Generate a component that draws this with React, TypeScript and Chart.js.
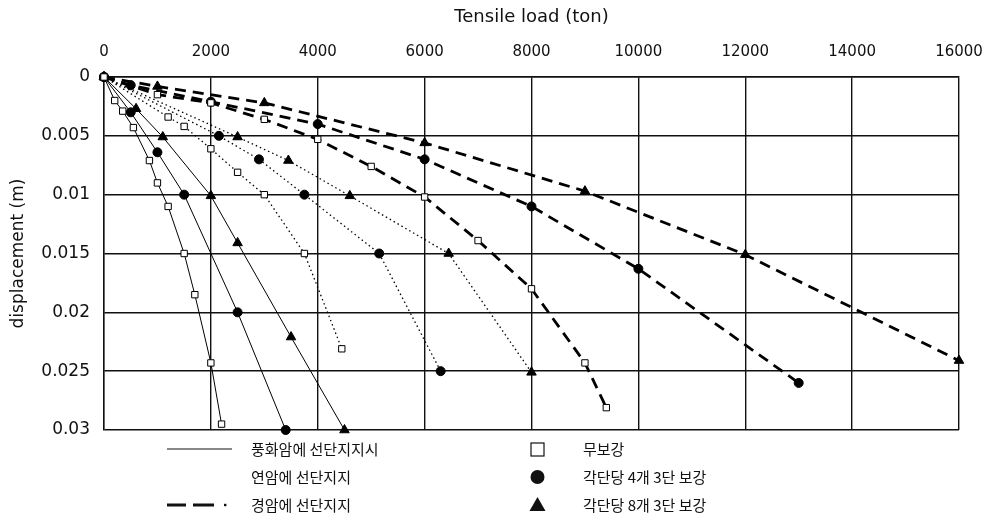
import React, { useEffect, useRef } from "react";
import { Chart, registerables } from "chart.js";

Chart.register(...registerables);

// X axis ticks (ton) and Y ticks (m)
const xTickValues = [0, 2000, 4000, 6000, 8000, 10000, 12000, 14000, 16000];
const yTickValues = [0, 0.005, 0.01, 0.015, 0.02, 0.025, 0.03];
const yTickLabels = ["0", "0.005", "0.01", "0.015", "0.02", "0.025", "0.03"];

// 풍화암 (solid)
const weatheredNoneLoad = [0, 200, 350, 550, 850, 1000, 1200, 1500, 1700, 2000, 2200];
const weatheredNoneDisp = [0, 0.002, 0.0029, 0.0043, 0.0071, 0.009, 0.011, 0.015, 0.0185, 0.0243, 0.0295];
const weatheredFourLoad = [0, 500, 1000, 1500, 2500, 3400];
const weatheredFourDisp = [0, 0.003, 0.0064, 0.01, 0.02, 0.03];
const weatheredEightLoad = [0, 600, 1100, 2000, 2500, 3500, 4500];
const weatheredEightDisp = [0, 0.0027, 0.0051, 0.0101, 0.0141, 0.0221, 0.03];

// 연암 (dotted)
const softNoneLoad = [0, 1200, 1500, 2000, 2500, 3000, 3750, 4450];
const softNoneDisp = [0, 0.0034, 0.0042, 0.0061, 0.0081, 0.01, 0.015, 0.0231];
const softFourLoad = [0, 2150, 2900, 3750, 5150, 6300];
const softFourDisp = [0, 0.005, 0.007, 0.01, 0.015, 0.025];
const softEightLoad = [0, 2500, 3450, 4600, 6450, 8000];
const softEightDisp = [0, 0.0051, 0.0071, 0.0101, 0.015, 0.0251];

// 경암 (dashed)
const hardNoneLoad = [0, 1000, 2000, 3000, 4000, 5000, 6000, 7000, 8000, 9000, 9400];
const hardNoneDisp = [0, 0.0015, 0.0022, 0.0036, 0.0053, 0.0076, 0.0102, 0.0139, 0.018, 0.0243, 0.0281];
const hardFourLoad = [0, 500, 2000, 4000, 6000, 8000, 10000, 13000];
const hardFourDisp = [0, 0.0007, 0.0021, 0.004, 0.007, 0.011, 0.0163, 0.026];
const hardEightLoad = [0, 1000, 3000, 6000, 9000, 12000, 16000];
const hardEightDisp = [0, 0.0008, 0.0022, 0.0056, 0.0097, 0.0151, 0.0241];

const lineLegendLabels = ["풍화암에 선단지지시", "연암에 선단지지", "경암에 선단지지"];
const markerLegendLabels = ["무보강", "각단당 4개 3단 보강", "각단당 8개 3단 보강"];

const FONT = "'DejaVu Sans', 'Liberation Sans', sans-serif";
const KFONT = "'Noto Sans CJK KR', sans-serif";

const toPts = (xs: number[], ys: number[]) => xs.map((x, i) => ({ x, y: ys[i] }));

type Style = "solid" | "dotted" | "dashed";
type Marker = "rect" | "circle" | "triangle";

const lineStyle = (s: Style) => {
  if (s === "solid") return { borderWidth: 1, borderDash: [] as number[] };
  if (s === "dotted") return { borderWidth: 1.3, borderDash: [1.5, 3] };
  return { borderWidth: 2.8, borderDash: [11, 7] };
};

const markerStyle = (m: Marker) => {
  if (m === "rect")
    return { pointStyle: "rect", pointRadius: 4.5, pointBackgroundColor: "#fff", pointBorderColor: "#000", pointBorderWidth: 1 };
  if (m === "circle")
    return { pointStyle: "circle", pointRadius: 4.5, pointBackgroundColor: "#000", pointBorderColor: "#000", pointBorderWidth: 1 };
  return { pointStyle: "triangle", pointRadius: 5.5, pointBackgroundColor: "#000", pointBorderColor: "#000", pointBorderWidth: 1 };
};

const makeSet = (label: string, xs: number[], ys: number[], s: Style, m: Marker) => ({
  label,
  data: toPts(xs, ys),
  showLine: true,
  borderColor: "#000",
  backgroundColor: "#000",
  tension: 0,
  clip: false as any,
  ...lineStyle(s),
  ...markerStyle(m),
});

const legendPlugin = {
  id: "customLegend",
  afterDraw(chart: any) {
    const ctx = chart.ctx as CanvasRenderingContext2D;
    const rows = [449, 477, 505];
    ctx.save();
    ctx.fillStyle = "#111";
    ctx.strokeStyle = "#111";
    ctx.font = `15px ${KFONT}`;
    ctx.textBaseline = "middle";
    ctx.textAlign = "left";
    // line samples
    ctx.lineWidth = 1;
    ctx.beginPath();
    ctx.moveTo(167, rows[0]);
    ctx.lineTo(232, rows[0]);
    ctx.stroke();
    ctx.lineWidth = 2.8;
    ctx.beginPath();
    ctx.moveTo(167, rows[2]);
    ctx.lineTo(186, rows[2]);
    ctx.moveTo(193, rows[2]);
    ctx.lineTo(214, rows[2]);
    ctx.stroke();
    ctx.fillRect(224, rows[2] - 1.2, 2.4, 2.4);
    lineLegendLabels.forEach((t, i) => ctx.fillText(t, 251, rows[i]));
    // markers
    ctx.lineWidth = 1.2;
    ctx.strokeRect(531, rows[0] - 6, 13, 13);
    ctx.beginPath();
    ctx.arc(537.5, rows[1], 7, 0, Math.PI * 2);
    ctx.fill();
    ctx.beginPath();
    ctx.moveTo(537.5, rows[2] - 8);
    ctx.lineTo(545.5, rows[2] + 6);
    ctx.lineTo(529.5, rows[2] + 6);
    ctx.closePath();
    ctx.fill();
    markerLegendLabels.forEach((t, i) => ctx.fillText(t, 583, rows[i]));
    ctx.restore();
  },
};

export default function App() {
  const ref = useRef<HTMLCanvasElement | null>(null);
  useEffect(() => {
    document.body.style.margin = "0";
    const canvas = ref.current!;
    const chart = new Chart(canvas, {
      type: "scatter",
      data: {
        datasets: [
          makeSet("풍화암 무보강", weatheredNoneLoad, weatheredNoneDisp, "solid", "rect"),
          makeSet("풍화암 4개", weatheredFourLoad, weatheredFourDisp, "solid", "circle"),
          makeSet("풍화암 8개", weatheredEightLoad, weatheredEightDisp, "solid", "triangle"),
          makeSet("연암 무보강", softNoneLoad, softNoneDisp, "dotted", "rect"),
          makeSet("연암 4개", softFourLoad, softFourDisp, "dotted", "circle"),
          makeSet("연암 8개", softEightLoad, softEightDisp, "dotted", "triangle"),
          makeSet("경암 무보강", hardNoneLoad, hardNoneDisp, "dashed", "rect"),
          makeSet("경암 4개", hardFourLoad, hardFourDisp, "dashed", "circle"),
          makeSet("경암 8개", hardEightLoad, hardEightDisp, "dashed", "triangle"),
        ] as any,
      },
      options: {
        responsive: false,
        animation: false,
        layout: { padding: { left: 0, right: 32, top: 0, bottom: 88 } },
        plugins: { legend: { display: false }, tooltip: { enabled: false } },
        scales: {
          x: {
            type: "linear",
            position: "top",
            min: 0,
            max: 16000,
            afterFit: (s: any) => {
              s.height = 77;
              s.paddingLeft = 0;
              s.paddingRight = 0;
            },
            afterBuildTicks: (s: any) => {
              s.ticks = xTickValues.map((v) => ({ value: v }));
            },
            ticks: {
              color: "#111",
              font: { family: FONT, size: 15 },
              padding: 16,
              maxRotation: 0,
              callback: (v: any) => String(v),
            },
            grid: { color: "#111", lineWidth: 1.4, drawTicks: false },
            border: { color: "#111", width: 1.4 },
            title: {
              display: true,
              text: "Tensile load (ton)",
              color: "#111",
              font: { family: FONT, size: 18 },
              padding: { top: 7, bottom: 0 },
            },
          },
          y: {
            type: "linear",
            reverse: true,
            min: 0,
            max: 0.03,
            afterFit: (s: any) => {
              s.width = 104;
              s.paddingTop = 0;
              s.paddingBottom = 0;
            },
            afterBuildTicks: (s: any) => {
              s.ticks = yTickValues.map((v) => ({ value: v }));
            },
            ticks: {
              color: "#111",
              font: { family: FONT, size: 17 },
              padding: 14,
              callback: (v: any) => {
                const i = yTickValues.findIndex((t) => Math.abs(t - Number(v)) < 1e-9);
                return i >= 0 ? yTickLabels[i] : "";
              },
            },
            grid: { color: "#111", lineWidth: 1.4, drawTicks: false },
            border: { color: "#111", width: 1.4 },
            title: {
              display: true,
              text: "displacement (m)",
              color: "#111",
              font: { family: FONT, size: 17 },
              padding: { top: 8, bottom: 0 },
            },
          },
        },
      } as any,
      plugins: [legendPlugin],
    });
    return () => chart.destroy();
  }, []);
  return (
    <div style={{ position: "absolute", left: 0, top: 0, width: 991, height: 518 }}>
      <canvas ref={ref} width={991} height={518} style={{ display: "block", width: 991, height: 518 }} />
    </div>
  );
}
